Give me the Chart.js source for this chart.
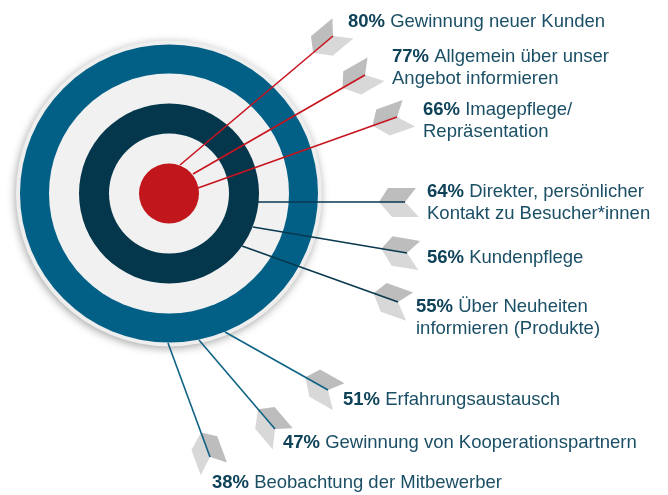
<!DOCTYPE html>
<html>
<head>
<meta charset="utf-8">
<script src="https://cdn.jsdelivr.net/npm/chart.js@4"></script>
<style>
  html, body { margin: 0; padding: 0; background: #ffffff; }
  #wrap { width: 668px; height: 495px; }
</style>
</head>
<body>
<div id="wrap"><canvas id="myChart"></canvas></div>
<script>
// data
const values = [80, 77, 66, 64, 56, 55, 51, 47, 38];
const categories = [
  ['Gewinnung neuer Kunden'],
  ['Allgemein über unser', 'Angebot informieren'],
  ['Imagepflege/', 'Repräsentation'],
  ['Direkter, persönlicher', 'Kontakt zu Besucher*innen'],
  ['Kundenpflege'],
  ['Über Neuheiten', 'informieren (Produkte)'],
  ['Erfahrungsaustausch'],
  ['Gewinnung von Kooperationspartnern'],
  ['Beobachtung der Mitbewerber']
];

// layout (chart units, y grows downwards)
const targetCenter = { x: 169, y: 193.5 };
const ringRadii = [153, 149, 120, 90, 60, 30];
const ringColors = ['#eeeeee', '#025f86', '#f1f1f1', '#04374c', '#f1f1f1', '#c1161b'];
const arrowFrom = [[180, 165], [193, 174], [198, 188], [258, 202], [253, 227], [242, 246], [225, 332], [199, 340], [168, 343]];
const arrowTo = [[333, 36], [365, 75], [397, 117], [405, 202], [407, 253], [398, 302], [328, 390], [275, 429], [210, 457]];
const labelAt = [[348, 27], [392, 62], [423, 115], [427, 197], [427, 263], [416, 312], [343, 405], [283, 448], [212, 488]];
const shaftColors = ['#c8141e', '#c8141e', '#c8141e', '#08394f', '#08394f', '#08394f', '#0f6286', '#0f6286', '#0f6286'];

const ctx = document.getElementById('myChart');

const targetPlugin = {
  id: 'target',
  beforeDatasetsDraw(chart) {
    const c = chart.ctx;
    const xs = chart.scales.x, ys = chart.scales.y;
    const cx = xs.getPixelForValue(targetCenter.x);
    const cy = ys.getPixelForValue(targetCenter.y);
    const unit = xs.getPixelForValue(1) - xs.getPixelForValue(0);
    c.save();
    ringRadii.forEach((r, i) => {
      c.beginPath();
      c.arc(cx, cy, r * unit, 0, Math.PI * 2);
      c.fillStyle = ringColors[i];
      if (i === 0) {
        c.shadowColor = 'rgba(0,0,0,0.35)';
        c.shadowBlur = 9;
        c.shadowOffsetX = -1;
        c.shadowOffsetY = 2;
      } else {
        c.shadowColor = 'transparent';
        c.shadowBlur = 0;
      }
      c.fill();
    });
    c.restore();

    // fletchings, drawn under the shafts
    c.save();
    chart.data.datasets.forEach((ds, i) => {
      const pts = chart.getDatasetMeta(i).data;
      const a = pts[0], b = pts[1];
      const len = Math.hypot(b.x - a.x, b.y - a.y);
      const ux = (b.x - a.x) / len, uy = (b.y - a.y) / len;
      const nx = uy, ny = -ux;
      const p = (s, h, side) => [b.x + s * ux + h * nx * side, b.y + s * uy + h * ny * side];
      const vane = (corners, side, color) => {
        c.beginPath();
        corners.forEach(([s, h], k) => {
          const q = p(s * unit, h * unit, side);
          if (k === 0) c.moveTo(q[0], q[1]); else c.lineTo(q[0], q[1]);
        });
        c.closePath();
        c.fillStyle = color;
        c.fill();
      };
      vane([[-26, 0], [0, 0], [11, 14], [-17, 14]], 1, '#bdbdbd');
      vane([[-26, 0], [0, 0], [14, 15], [-13, 15]], -1, '#d8d8d8');
    });
    c.restore();
  },
  afterDatasetsDraw(chart) {
    const c = chart.ctx;
    const xs = chart.scales.x, ys = chart.scales.y;
    c.save();
    c.textBaseline = 'alphabetic';
    const size = 18.5;
    const lineH = 22;
    categories.forEach((lines, i) => {
      const x = xs.getPixelForValue(labelAt[i][0]);
      const y = ys.getPixelForValue(labelAt[i][1]);
      const pct = values[i] + '%';
      c.font = 'bold ' + size + 'px "Liberation Sans", Arial, sans-serif';
      c.fillStyle = '#0e4259';
      c.fillText(pct, x, y);
      const w = c.measureText(pct + ' ').width;
      c.font = size + 'px "Liberation Sans", Arial, sans-serif';
      c.fillStyle = '#1b4f66';
      lines.forEach((t, k) => {
        if (k === 0) c.fillText(t, x + w, y);
        else c.fillText(t, x, y + k * lineH);
      });
    });
    c.restore();
  }
};

new Chart(ctx, {
  type: 'scatter',
  data: {
    datasets: values.map((v, i) => ({
      label: v + '% ' + categories[i].join(' '),
      data: [
        { x: arrowFrom[i][0], y: arrowFrom[i][1] },
        { x: arrowTo[i][0], y: arrowTo[i][1] }
      ],
      showLine: true,
      borderColor: shaftColors[i],
      borderWidth: 1.6,
      pointRadius: 0,
      pointHoverRadius: 0
    }))
  },
  options: {
    responsive: true,
    maintainAspectRatio: false,
    animation: false,
    layout: { padding: 0 },
    plugins: {
      legend: { display: false },
      tooltip: { enabled: false }
    },
    scales: {
      x: { type: 'linear', min: 0, max: 668, display: false },
      y: { type: 'linear', min: 0, max: 495, reverse: true, display: false }
    }
  },
  plugins: [targetPlugin]
});
</script>
</body>
</html>
